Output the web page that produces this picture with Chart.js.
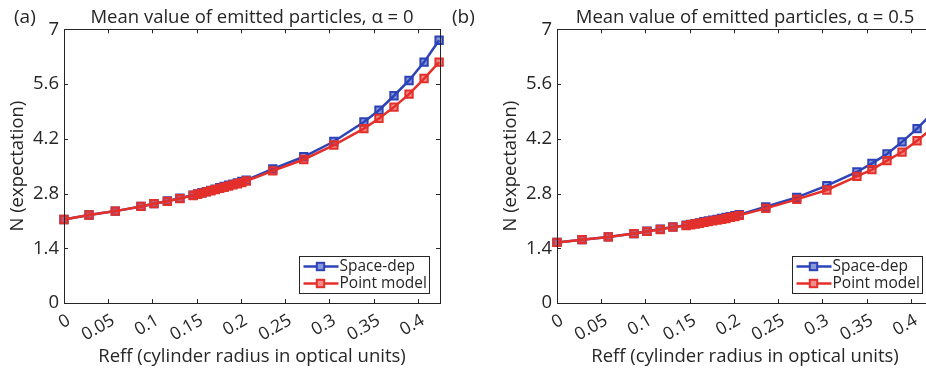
<!DOCTYPE html>
<html>
<head>
<meta charset="utf-8">
<script src="https://cdn.jsdelivr.net/npm/chart.js@4.4.1/dist/chart.umd.min.js"></script>
<style>
  body { margin: 0; background: #fff; }
  #wrap { position: relative; width: 926px; height: 370px; overflow: hidden; background: #fff; }
  .panel { position: absolute; top: 0; }
  .lbl { position: absolute; top: 3px; font: 19px "Open Sans", sans-serif; color: #262626; }
</style>
</head>
<body>
<div id="wrap">
  <div class="panel" style="left:0"><canvas id="chartA" width="463" height="370"></canvas></div>
  <div class="panel" style="left:463px"><canvas id="chartB" width="493" height="370"></canvas></div>
  <div class="lbl" style="left:14px">(a)</div>
  <div class="lbl" style="left:452px">(b)</div>
</div>
<script>
// Reff values (shared by both panels)
const reff = [0, 0.0283, 0.058, 0.087, 0.1017, 0.1168, 0.131, 0.146, 0.151, 0.156,
  0.161, 0.166, 0.171, 0.176, 0.181, 0.186, 0.191, 0.196, 0.201, 0.206,
  0.236, 0.271, 0.305, 0.339, 0.356, 0.373, 0.390, 0.407, 0.424];

// panel (a), alpha = 0
const spaceDepA = [2.135, 2.25, 2.35, 2.47, 2.54, 2.61, 2.68, 2.76, 2.79, 2.82,
  2.85, 2.88, 2.91, 2.95, 2.98, 3.01, 3.04, 3.07, 3.11, 3.14,
  3.43, 3.74, 4.13, 4.63, 4.93, 5.30, 5.69, 6.16, 6.72];
const pointModelA = [2.135, 2.25, 2.35, 2.47, 2.54, 2.60, 2.67, 2.75, 2.78, 2.81,
  2.84, 2.87, 2.90, 2.93, 2.96, 2.99, 3.02, 3.05, 3.08, 3.12,
  3.38, 3.67, 4.04, 4.46, 4.72, 5.01, 5.34, 5.74, 6.16];

// panel (b), alpha = 0.5
const spaceDepB = [1.55, 1.62, 1.69, 1.775, 1.835, 1.89, 1.945, 1.99, 2.01, 2.03,
  2.05, 2.08, 2.10, 2.12, 2.14, 2.16, 2.19, 2.21, 2.23, 2.26,
  2.46, 2.70, 3.00, 3.35, 3.57, 3.81, 4.12, 4.46, 4.85];
const pointModelB = [1.55, 1.62, 1.69, 1.775, 1.83, 1.88, 1.94, 1.98, 2.00, 2.02,
  2.04, 2.06, 2.08, 2.10, 2.12, 2.14, 2.16, 2.19, 2.21, 2.24,
  2.42, 2.65, 2.89, 3.24, 3.41, 3.64, 3.86, 4.15, 4.47];

const xTicks = [0, 0.05, 0.1, 0.15, 0.2, 0.25, 0.3, 0.35, 0.4];
const xTickLabels = ['0', '0.05', '0.1', '0.15', '0.2', '0.25', '0.3', '0.35', '0.4'];
const yTicks = [0, 1.4, 2.8, 4.2, 5.6, 7];
const yTickLabels = ['0', '1.4', '2.8', '4.2', '5.6', '7'];
const seriesNames = ['Space-dep', 'Point model'];

const BLUE = '#2c43b8';
const RED = '#e5302a';
const BLUE_FILL = 'rgba(44,67,184,0.55)';
const RED_FILL = 'rgba(229,48,42,0.55)';
const INK = '#262626';
const FONT = '"Open Sans", sans-serif';

function pts(ys) {
  return reff.map((x, i) => ({ x: x, y: ys[i] }));
}

function drawMarker(ctx, x, y, color, fill) {
  ctx.fillStyle = '#fff';
  ctx.fillRect(x - 3.7, y - 3.7, 7.4, 7.4);
  ctx.fillStyle = fill;
  ctx.fillRect(x - 3.7, y - 3.7, 7.4, 7.4);
  ctx.strokeStyle = color;
  ctx.lineWidth = 2;
  ctx.strokeRect(x - 3.7, y - 3.7, 7.4, 7.4);
}

// box, inward ticks and legend inside the axes
const framePlugin = {
  id: 'frame',
  afterDraw(chart) {
    const { ctx, chartArea: a, scales } = chart;
    ctx.save();
    ctx.strokeStyle = INK;
    ctx.lineWidth = 1;
    ctx.strokeRect(Math.round(a.left) + 0.5, Math.round(a.top) + 0.5,
      Math.round(a.width), Math.round(a.height));
    ctx.beginPath();
    xTicks.forEach(v => {
      const px = Math.round(scales.x.getPixelForValue(v)) + 0.5;
      ctx.moveTo(px, a.bottom); ctx.lineTo(px, a.bottom - 4);
      ctx.moveTo(px, a.top); ctx.lineTo(px, a.top + 4);
    });
    yTicks.forEach(v => {
      const py = Math.round(scales.y.getPixelForValue(v)) + 0.5;
      ctx.moveTo(a.left, py); ctx.lineTo(a.left + 4, py);
      ctx.moveTo(a.right, py); ctx.lineTo(a.right - 4, py);
    });
    ctx.stroke();

    // legend
    const w = 130, h = 37;
    const lx = Math.round(a.right - 11 - w) + 0.5;
    const ly = Math.round(a.bottom - 10 - h) + 0.5;
    ctx.fillStyle = '#fff';
    ctx.fillRect(lx, ly, w, h);
    ctx.strokeStyle = INK;
    ctx.strokeRect(lx, ly, w, h);
    const colors = [BLUE, RED];
    const fills = [BLUE_FILL, RED_FILL];
    ctx.font = '15.5px ' + FONT;
    ctx.textBaseline = 'middle';
    seriesNames.forEach((name, i) => {
      const cy = ly + 10 + i * 17;
      ctx.strokeStyle = colors[i];
      ctx.lineWidth = 2.5;
      ctx.beginPath();
      ctx.moveTo(lx + 4, cy); ctx.lineTo(lx + 39, cy);
      ctx.stroke();
      drawMarker(ctx, lx + 21, cy, colors[i], fills[i]);
      ctx.fillStyle = INK;
      ctx.fillText(name, lx + 40, cy);
    });
    ctx.restore();
  }
};

function makeChart(id, title, blue, red, leftPad) {
  const ds = (label, data, color, fill, order) => ({
    label: label,
    data: pts(data),
    borderColor: color,
    borderWidth: 2.5,
    pointStyle: 'rect',
    pointRadius: 5.2,
    pointBorderWidth: 2,
    pointBackgroundColor: fill,
    pointBorderColor: color,
    tension: 0,
    clip: false,
    order: order
  });
  return new Chart(document.getElementById(id).getContext('2d'), {
    type: 'line',
    data: {
      datasets: [
        ds(seriesNames[0], blue, BLUE, BLUE_FILL, 2),
        ds(seriesNames[1], red, RED, RED_FILL, 1)
      ]
    },
    options: {
      responsive: false,
      animation: false,
      layout: { padding: { left: leftPad, right: 23, top: 0, bottom: 0 } },
      plugins: {
        legend: { display: false },
        tooltip: { enabled: false },
        title: {
          display: true,
          text: title,
          fullSize: false,
          color: INK,
          font: { family: FONT, size: 18.5, weight: 'normal', lineHeight: 1.15 },
          padding: { top: 7, bottom: 1 }
        }
      },
      scales: {
        x: {
          type: 'linear',
          min: 0,
          max: 0.425,
          afterBuildTicks: s => { s.ticks = xTicks.map(v => ({ value: v })); },
          afterFit: s => { s.height = 67; },
          grid: { drawOnChartArea: false, drawTicks: false },
          border: { display: false },
          ticks: {
            color: INK,
            font: { family: FONT, size: 17.5 },
            minRotation: 30,
            maxRotation: 30,
            padding: 7,
            labelOffset: 5,
            callback: (v, i) => xTickLabels[i]
          },
          title: {
            display: true,
            text: 'Reff (cylinder radius in optical units)',
            color: INK,
            font: { family: FONT, size: 18.5, lineHeight: 1.15 },
            padding: { top: 0, bottom: 3 }
          }
        },
        y: {
          min: 0,
          max: 7,
          afterBuildTicks: s => { s.ticks = yTicks.map(v => ({ value: v })); },
          afterFit: s => { s.width = 64; },
          grid: { drawOnChartArea: false, drawTicks: false },
          border: { display: false },
          ticks: {
            color: INK,
            font: { family: FONT, size: 18.5 },
            padding: 5,
            callback: (v, i) => yTickLabels[i]
          },
          title: {
            display: true,
            text: 'N (expectation)',
            color: INK,
            font: { family: FONT, size: 18.5, lineHeight: 1.15 },
            padding: { top: 7, bottom: 0 }
          }
        }
      }
    },
    plugins: [framePlugin]
  });
}

makeChart('chartA', 'Mean value of emitted particles, \u03b1 = 0', spaceDepA, pointModelA, 0);
makeChart('chartB', 'Mean value of emitted particles, \u03b1 = 0.5', spaceDepB, pointModelB, 30);
</script>
</body>
</html>
